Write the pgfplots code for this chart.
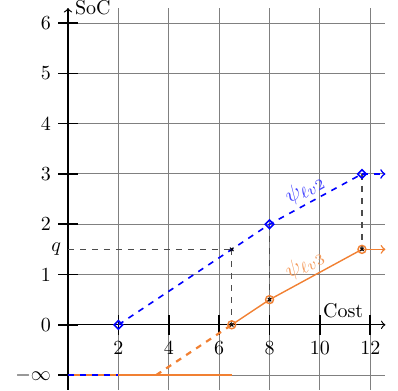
\documentclass[border=0pt]{standalone}
\usepackage{pgfplots}
\pgfplotsset{compat=1.18}
\definecolor{myorange}{RGB}{241,128,50}
\begin{document}
\begin{tikzpicture}
\begin{axis}[
  x=12.6pt, y=25.15pt,
  xmin=0, xmax=12.6, ymin=-1.29, ymax=6.3,
  axis lines=middle,
  axis line style={->, semithick},
  hide obscured x ticks=false, hide obscured y ticks=false,
  xtick={2,4,6,8,10,12},
  ytick={-1,0,1,2,3,4,5,6},
  yticklabels={$-\infty$,0,1,2,3,4,5,6},
  extra y ticks={1.5},
  extra y tick labels={$q$},
  extra y tick style={major tick length=0pt, grid=none},
  grid=major,
  grid style={black!50, line width=0.5pt},
  tick align=center,
  major tick length=10pt,
  tick style={black, line width=0.8pt},
  clip=false,
]
% -infinity row
\addplot[myorange, line width=0.7pt] coordinates {(0,-1) (6.5,-1)};
\addplot[blue, line width=1.4pt, dashed] coordinates {(0,-1) (2,-1)};
\addplot[myorange, line width=1.1pt, dashed] coordinates {(3.5,-1) (6.5,0)};
% black guide lines
\addplot[black!70, dashed, line width=0.7pt] coordinates {(0,1.5) (6.5,1.5)};
\addplot[black!70, dashed, line width=0.7pt] coordinates {(6.5,1.5) (6.5,0)};
\addplot[black!70, dashed, line width=0.7pt] coordinates {(8,2) (8,0.5)};
\addplot[black!70, dashed, line width=0.7pt] coordinates {(11.67,3) (11.67,1.5)};
% psi v2 (blue)
\addplot[blue, dashed, line width=0.8pt, mark=square, mark size=1.5pt, mark options={solid, rotate=45, line width=0.8pt}] coordinates {(2,0) (8,2) (11.67,3)};
\addplot[blue, dashed, line width=0.8pt, ->] coordinates {(11.67,3) (12.6,3)};
% psi v3 (orange)
\addplot[myorange, line width=0.7pt, mark=o, mark size=2pt] coordinates {(6.5,0) (8,0.5) (11.67,1.5)};
\addplot[myorange, line width=0.7pt, ->] coordinates {(11.67,1.5) (12.6,1.5)};
% small crosses
\addplot[black, only marks, mark=x, mark size=1.2pt, mark options={line width=0.5pt}] coordinates {(6.5,1.5) (6.5,0) (8,0.5) (11.67,1.5)};
% labels
\node[blue!75, rotate=28.6, scale=1.1] at (axis cs:9.4,2.70) {$\psi_{\ell v2}$};
\node[myorange!80, rotate=28.6, scale=1.1] at (axis cs:9.4,1.21) {$\psi_{\ell v3}$};
\node[anchor=west, inner ysep=0pt] at (axis cs:0,6.3) {SoC};
\node[anchor=south east] at (axis cs:12,0) {Cost};
\coordinate (BL) at (axis cs:-2.70,-1.29);
\coordinate (TR) at (axis cs:13.10,6.46);
\end{axis}
\path (BL) rectangle (TR);
\end{tikzpicture}
\end{document}
